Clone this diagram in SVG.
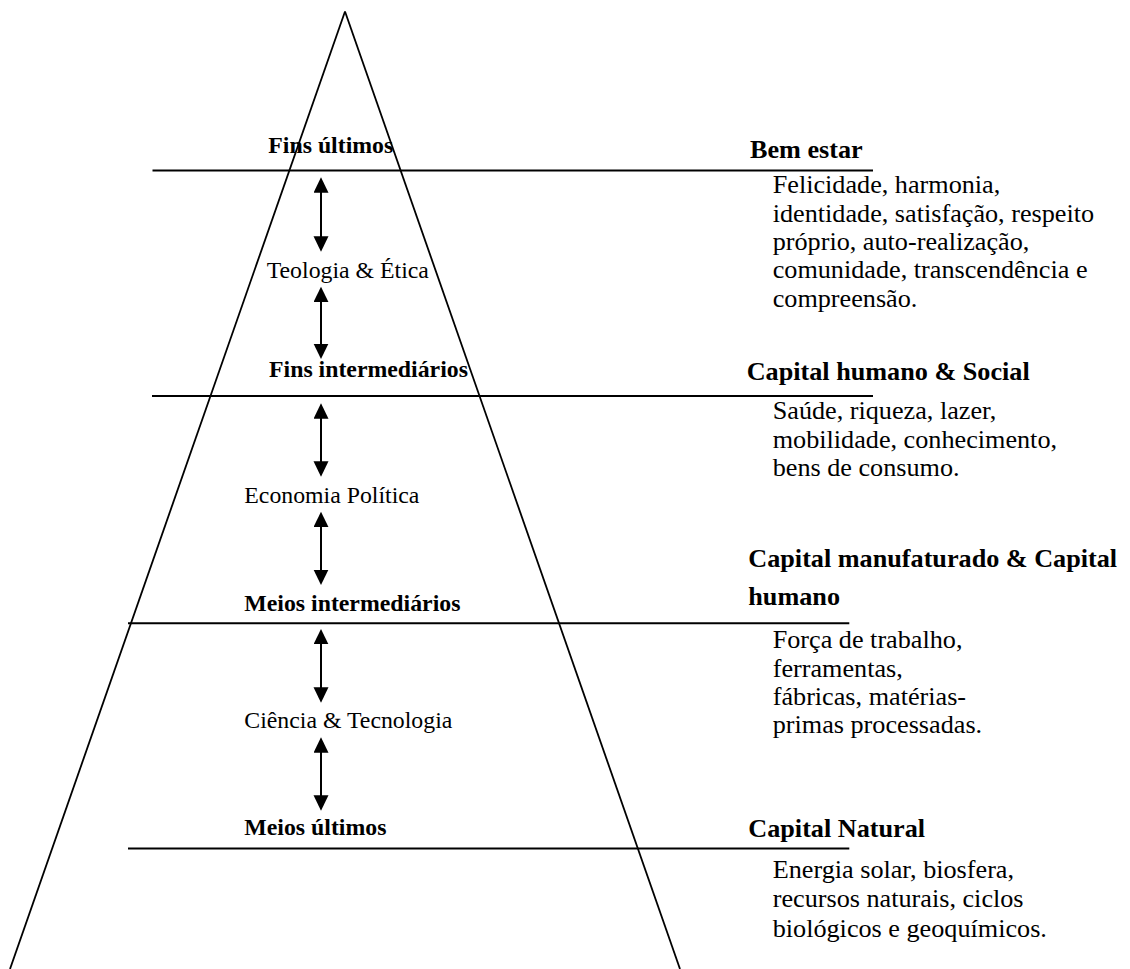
<svg xmlns="http://www.w3.org/2000/svg" width="1130" height="969" viewBox="0 0 1130 969">
<style>
.ln{stroke:#000;stroke-width:2;fill:none}
.tri{stroke:#000;stroke-width:1.8;fill:none}
.arr{stroke:#000;stroke-width:2;fill:none;marker-start:url(#ah);marker-end:url(#ah)}
text{font-family:"Liberation Serif","Times New Roman",serif;fill:#000}
.l{font-size:23.8px}
.r{font-size:26.2px}
.b{font-weight:bold}
</style>
<defs>
<marker id="ah" markerUnits="userSpaceOnUse" markerWidth="16" markerHeight="16" refX="3" refY="7.5" orient="auto-start-reverse">
<path d="M0,0 L15.4,7.5 L0,15 Z" fill="#000"/>
</marker>
</defs>
<rect width="1130" height="969" fill="#fff"/>
<g id="pyramid">
<line class="tri" x1="345" y1="11.5" x2="10" y2="969"/>
<line class="tri" x1="345" y1="11.5" x2="680" y2="969"/>
</g>
<g id="levels">
<line class="ln" x1="152.5" y1="170.6" x2="873" y2="170.6"/>
<line class="ln" x1="152" y1="396" x2="873" y2="396"/>
<line class="ln" x1="128" y1="623.3" x2="849.3" y2="623.3"/>
<line class="ln" x1="128" y1="848.5" x2="849.3" y2="848.5"/>
</g>
<g id="connectors">
<line class="arr" x1="321" y1="189.7" x2="321" y2="239.3"/>
<line class="arr" x1="321" y1="299.1" x2="321" y2="346.6"/>
<line class="arr" x1="321" y1="415.7" x2="321" y2="464.3"/>
<line class="arr" x1="321" y1="524.1" x2="321" y2="572.6"/>
<line class="arr" x1="321" y1="641.4" x2="321" y2="690.3"/>
<line class="arr" x1="321" y1="749.7" x2="321" y2="798.3"/>
</g>
<g id="fins-ultimos"><text class="l b" x="268.3" y="153.3">Fins últimos</text></g>
<g id="teologia"><text class="l" x="266.7" y="277.5">Teologia &amp; Ética</text></g>
<g id="fins-intermediarios"><text class="l b" x="269" y="377.3">Fins intermediários</text></g>
<g id="economia"><text class="l" x="244.3" y="503.3">Economia Política</text></g>
<g id="meios-intermediarios"><text class="l b" x="244.3" y="610.7">Meios intermediários</text></g>
<g id="ciencia"><text class="l" x="244.3" y="728.3">Ciência &amp; Tecnologia</text></g>
<g id="meios-ultimos"><text class="l b" x="244.3" y="835">Meios últimos</text></g>
<g id="bem-estar">
<text class="r b" x="750" y="158.3">Bem estar</text>
<text class="r" x="772.7" y="193.3">Felicidade, harmonia,</text>
<text class="r" x="772.7" y="221.7">identidade, satisfação, respeito</text>
<text class="r" x="772.7" y="250">próprio, auto-realização,</text>
<text class="r" x="772.7" y="278.4">comunidade, transcendência e</text>
<text class="r" x="772.7" y="306.8">compreensão.</text>
</g>
<g id="capital-humano-social">
<text class="r b" x="746.7" y="380">Capital humano &amp; Social</text>
<text class="r" x="772.7" y="419">Saúde, riqueza, lazer,</text>
<text class="r" x="772.7" y="447.5">mobilidade, conhecimento,</text>
<text class="r" x="772.7" y="476">bens de consumo.</text>
</g>
<g id="capital-manufaturado">
<text class="r b" x="748.3" y="566.7">Capital manufaturado &amp; Capital</text>
<text class="r b" x="748.3" y="605">humano</text>
<text class="r" x="772.7" y="648.3">Força de trabalho,</text>
<text class="r" x="772.7" y="676.7">ferramentas,</text>
<text class="r" x="772.7" y="705">fábricas, matérias-</text>
<text class="r" x="772.7" y="733.3">primas processadas.</text>
</g>
<g id="capital-natural">
<text class="r b" x="748.3" y="837.3">Capital Natural</text>
<text class="r" x="772.7" y="877.7">Energia solar, biosfera,</text>
<text class="r" x="772.7" y="907.2">recursos naturais, ciclos</text>
<text class="r" x="772.7" y="936.7">biológicos e geoquímicos.</text>
</g>
</svg>
